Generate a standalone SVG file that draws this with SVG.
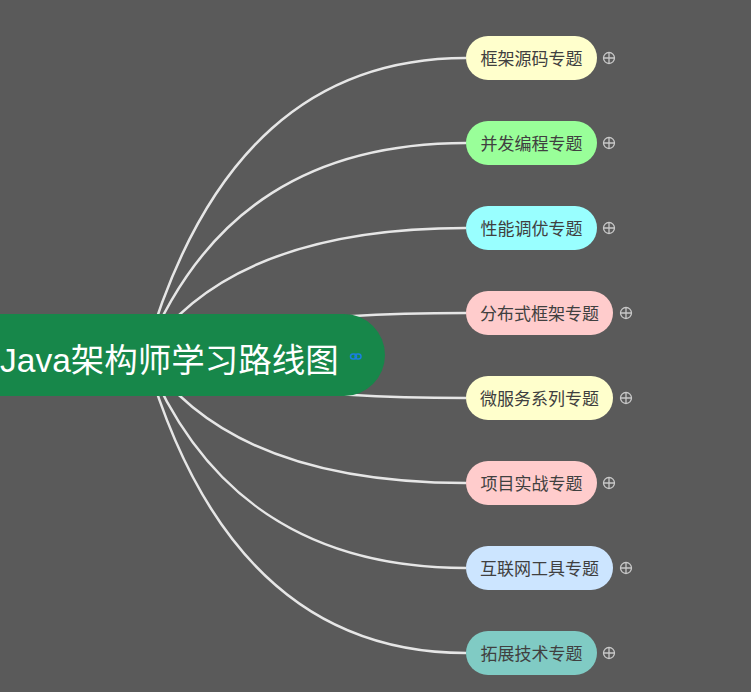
<svg xmlns="http://www.w3.org/2000/svg" width="751" height="692" viewBox="0 0 751 692">
<style>
.bg{fill:#5a5a5a}
.conn path{fill:none;stroke:#e6e6e6;stroke-width:2.5}
.child rect{stroke:none}
.child text{font-family:"Microsoft YaHei","Noto Sans CJK SC",sans-serif;font-size:17px;fill:#404040;text-anchor:middle}
.plus circle{fill:none;stroke:#c8c8c8;stroke-width:1.3}
.plus path{stroke:#c8c8c8;stroke-width:1.3}
.root text{font-family:"Liberation Sans","Noto Sans CJK SC",sans-serif;font-size:33.5px;fill:#ffffff}
</style>
<rect class="bg" x="0" y="0" width="751" height="692"/>
<g id="connectors" class="conn">
<path d="M145,355 C205,147 316,58 466,58"/>
<path d="M145,355 C205,206 316,143 466,143"/>
<path d="M145,355 C205,266 316,228 466,228"/>
<path d="M145,355 C205,326 316,313 466,313"/>
<path d="M145,355 C205,385 316,398 466,398"/>
<path d="M145,355 C205,444 316,483 466,483"/>
<path d="M145,355 C205,504 316,568 466,568"/>
<path d="M145,355 C205,563 316,653 466,653"/>
</g>
<g id="root" class="root">
<rect x="-50" y="314" width="435" height="82" rx="41" fill="#17874a"/>
<text x="0" y="372">Java架构师学习路线图</text>
<g fill="none" stroke="#1a7fe0" stroke-width="1.5">
<rect x="350.5" y="354" width="6" height="5" rx="2.5"/>
<rect x="355" y="354" width="6" height="5" rx="2.5"/>
</g>
</g>
<g id="n1" class="child">
<rect x="466" y="36" width="131" height="44" rx="22" fill="#ffffcc"/>
<text x="531.5" y="65">框架源码专题</text>
<g class="plus"><circle cx="609" cy="58" r="5.5"/><path d="M603.5,58h11M609,52.5v11"/></g>
</g>
<g id="n2" class="child">
<rect x="466" y="121" width="131" height="44" rx="22" fill="#99ff99"/>
<text x="531.5" y="150">并发编程专题</text>
<g class="plus"><circle cx="609" cy="143" r="5.5"/><path d="M603.5,143h11M609,137.5v11"/></g>
</g>
<g id="n3" class="child">
<rect x="466" y="206" width="131" height="44" rx="22" fill="#99ffff"/>
<text x="531.5" y="235">性能调优专题</text>
<g class="plus"><circle cx="609" cy="228" r="5.5"/><path d="M603.5,228h11M609,222.5v11"/></g>
</g>
<g id="n4" class="child">
<rect x="466" y="291" width="147" height="44" rx="22" fill="#ffcccc"/>
<text x="539.5" y="320">分布式框架专题</text>
<g class="plus"><circle cx="626" cy="313" r="5.5"/><path d="M620.5,313h11M626,307.5v11"/></g>
</g>
<g id="n5" class="child">
<rect x="466" y="376" width="147" height="44" rx="22" fill="#ffffcc"/>
<text x="539.5" y="405">微服务系列专题</text>
<g class="plus"><circle cx="626" cy="398" r="5.5"/><path d="M620.5,398h11M626,392.5v11"/></g>
</g>
<g id="n6" class="child">
<rect x="466" y="461" width="131" height="44" rx="22" fill="#ffcccc"/>
<text x="531.5" y="490">项目实战专题</text>
<g class="plus"><circle cx="609" cy="483" r="5.5"/><path d="M603.5,483h11M609,477.5v11"/></g>
</g>
<g id="n7" class="child">
<rect x="466" y="546" width="147" height="44" rx="22" fill="#cce5ff"/>
<text x="539.5" y="575">互联网工具专题</text>
<g class="plus"><circle cx="626" cy="568" r="5.5"/><path d="M620.5,568h11M626,562.5v11"/></g>
</g>
<g id="n8" class="child">
<rect x="466" y="631" width="131" height="44" rx="22" fill="#80cbc4"/>
<text x="531.5" y="660">拓展技术专题</text>
<g class="plus"><circle cx="609" cy="653" r="5.5"/><path d="M603.5,653h11M609,647.5v11"/></g>
</g>
</svg>
